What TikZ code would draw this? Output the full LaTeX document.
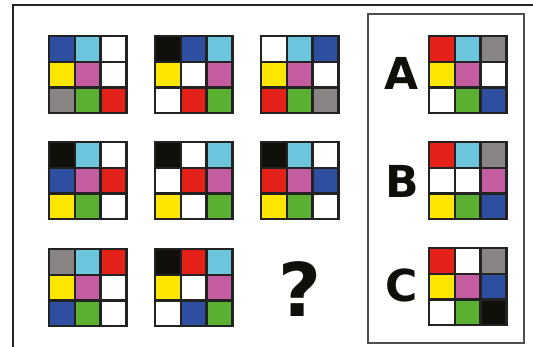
\documentclass[tikz,border=0pt]{standalone}
\usepackage{fontspec}
\newfontfamily\puzzlefont{DejaVu Sans}
\definecolor{cblue}{HTML}{2E4F9F}
\definecolor{ccyan}{HTML}{6CC5DD}
\definecolor{cyellow}{HTML}{FFE600}
\definecolor{cmagenta}{HTML}{C45DA0}
\definecolor{cgray}{HTML}{8A8585}
\definecolor{cgreen}{HTML}{5BB032}
\definecolor{cred}{HTML}{E32119}
\definecolor{cblack}{HTML}{110F0A}
\definecolor{cwhite}{HTML}{FFFFFF}
\definecolor{frame}{HTML}{222222}

% one 3x3 grid: name, top left corner, nine colours
\newcommand{\colorgrid}[3]{%
  \begin{scope}[shift={(#2)}]
    \foreach \c [count=\i from 0] in {#3} {
      \pgfmathtruncatemacro{\col}{mod(\i,3)}
      \pgfmathtruncatemacro{\row}{int(\i/3)}
      \node[cell, fill=\c] (#1\i) at (\col*25.7, \row*25.7) {};
    }
  \end{scope}
}

\begin{document}
\begin{tikzpicture}[x=1pt, y=-1pt]
		% Styles
		\tikzstyle{cell} = [rectangle, draw=frame, line width=2.4pt, anchor=north west, minimum size=25.7pt, inner sep=0pt]
		\tikzstyle{letter} = [font=\puzzlefont\bfseries\fontsize{44}{44}\selectfont, inner sep=0pt]
		
		\useasboundingbox (0,0) rectangle (533,347);
		
		% Frames
		\draw[line width=2pt, frame] (13,349) -- (13,5) -- (535,5);
		\draw[line width=2pt, frame!80] (368,14) rectangle (524,343);
		
		% Puzzle grids
		\colorgrid{p1}{48,35}{cblue,ccyan,cwhite,cyellow,cmagenta,cwhite,cgray,cgreen,cred}
		\colorgrid{p2}{154,35}{cblack,cblue,ccyan,cyellow,cwhite,cmagenta,cwhite,cred,cgreen}
		\colorgrid{p3}{260,35}{cwhite,ccyan,cblue,cyellow,cmagenta,cwhite,cred,cgreen,cgray}
		\colorgrid{p4}{48,141}{cblack,ccyan,cwhite,cblue,cmagenta,cred,cyellow,cgreen,cwhite}
		\colorgrid{p5}{154,141}{cblack,cwhite,ccyan,cwhite,cred,cmagenta,cyellow,cwhite,cgreen}
		\colorgrid{p6}{260,141}{cblack,ccyan,cwhite,cred,cmagenta,cblue,cyellow,cgreen,cwhite}
		\colorgrid{p7}{48,248}{cgray,ccyan,cred,cyellow,cmagenta,cwhite,cblue,cgreen,cwhite}
		\colorgrid{p8}{154,248}{cblack,cred,ccyan,cyellow,cwhite,cmagenta,cwhite,cblue,cgreen}
		\node[font=\puzzlefont\bfseries\fontsize{74}{74}\selectfont, inner sep=0pt, text=cblack] (question) at (300,289) {?};
		
		% Answers
		\colorgrid{a}{428,35}{cred,ccyan,cgray,cyellow,cmagenta,cwhite,cwhite,cgreen,cblue}
		\colorgrid{b}{428,141}{cred,ccyan,cgray,cwhite,cwhite,cmagenta,cyellow,cgreen,cblue}
		\colorgrid{c}{428,247}{cred,cwhite,cgray,cyellow,cmagenta,cblue,cwhite,cgreen,cblack}
		\node[letter, text=cblack] (labelA) at (402,73) {A};
		\node[letter, text=cblack] (labelB) at (402,181) {B};
		\node[letter, text=cblack] (labelC) at (402,285) {C};
	\end{tikzpicture}
\end{document}
